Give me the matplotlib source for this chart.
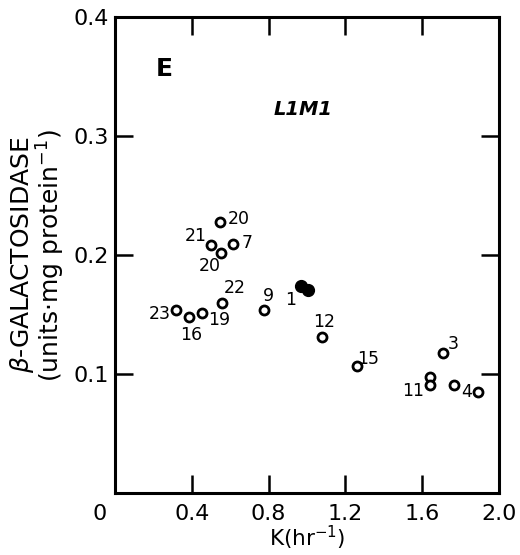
import numpy as np
import matplotlib
matplotlib.use('agg')
import matplotlib.pyplot as plt

plt.rcParams['font.family'] = ['DejaVu Sans']

# open circles: growth rate K (hr^-1) vs beta-galactosidase
k_open = [0.548, 0.500, 0.553, 0.616, 0.559, 0.319, 0.386, 0.454,
          0.778, 1.080, 1.258, 1.707, 1.640, 1.640, 1.765, 1.890]
gal_open = [0.2275, 0.208, 0.2015, 0.209, 0.160, 0.154, 0.148, 0.151,
            0.154, 0.131, 0.107, 0.1175, 0.0974, 0.0907, 0.0907, 0.0848]
labels_open = ['20', '21', '20', '7', '22', '23', '16', '19',
               '9', '12', '15', '3', '', '11', '', '4']

# filled point (overlapping pair)
k_filled = [0.966, 1.005]
gal_filled = [0.174, 0.171]
labels_filled = ['1', '']

x_ticks = [0, 0.4, 0.8, 1.2, 1.6, 2.0]
x_ticklabels = ['', '0.4', '0.8', '1.2', '1.6', '2.0']
y_ticks = [0.1, 0.2, 0.3, 0.4]
y_ticklabels = ['0.1', '0.2', '0.3', '0.4']

# label offsets in points (style only)
off_open = [(13.7, 2.2), (-10.8, 6.5), (-7.9, -9.4), (10, 0.7),
            (8.6, 10.8), (-11.5, -2.9), (1.4, -13), (12.2, -5),
            (2.9, 10), (1.4, 10.8), (8.6, 5), (7.2, 6.5), (0, 0),
            (-12, -4), (0, 0), (-8, 0)]
off_filled = [(-7, -10), (0, 0)]

fig = plt.figure(figsize=(5.2, 5.55), dpi=100)
ax = fig.add_axes([0.221, 0.1117, 0.739, 0.8577])

ax.plot(k_open, gal_open, 'o', ls='none', ms=6.5, mfc='white', mec='black',
        mew=2.0)
ax.plot(k_filled, gal_filled, 'o', ls='none', ms=8.5, mfc='black',
        mec='black')

for x, y, t, o in zip(k_open, gal_open, labels_open, off_open):
    if t:
        ax.annotate(t, (x, y), xytext=o, textcoords='offset points',
                    ha='center', va='center', fontsize=12.5)
for x, y, t, o in zip(k_filled, gal_filled, labels_filled, off_filled):
    if t:
        ax.annotate(t, (x, y), xytext=o, textcoords='offset points',
                    ha='center', va='center', fontsize=12.5)

ax.set_xlim(0, 2.0)
ax.set_ylim(0, 0.4)
ax.set_xticks(x_ticks)
ax.set_xticklabels(x_ticklabels)
ax.set_yticks(y_ticks)
ax.set_yticklabels(y_ticklabels)

ax.tick_params(direction='in', length=13, width=1.8, top=True, right=True,
               labelsize=16)
ax.tick_params(axis='x', pad=8)
ax.tick_params(axis='y', pad=4)
for s in ax.spines.values():
    s.set_linewidth(2.2)

# origin label sits left of the corner
ax.annotate('0', (0, 0), xytext=(-11, -8), textcoords='offset points',
            ha='center', va='top', fontsize=16)

ax.text(0.256, 0.356, 'E', fontsize=18, fontweight='bold',
        ha='center', va='center')
ax.text(0.98, 0.322, 'L1M1', fontsize=14, style='italic', fontweight='bold',
        ha='center', va='center')

ax.set_xlabel('K(hr$^{-1}$)', fontsize=15.5, labelpad=0)
ax.set_ylabel('$\\beta$-GALACTOSIDASE\n(units$\\cdot$mg protein$^{-1}$)',
              fontsize=18, linespacing=0.95, labelpad=5)

fig.savefig('out.png', dpi=100)
